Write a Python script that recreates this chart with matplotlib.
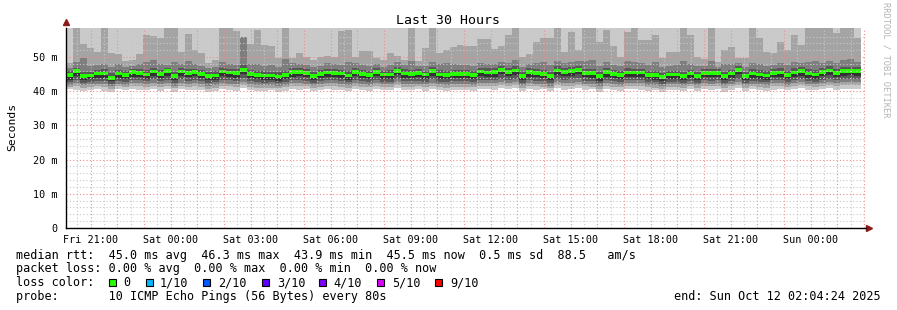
import numpy as np
import matplotlib
matplotlib.use("Agg")
import matplotlib.pyplot as plt
import matplotlib.dates as mdates
from matplotlib.patches import Rectangle
from matplotlib.ticker import MultipleLocator, FixedLocator, FuncFormatter
from datetime import datetime, timedelta

plt.rcParams['font.family'] = ['DejaVu Sans Mono']

END = datetime(2025, 10, 12, 2, 4, 24)
START = END - timedelta(hours=30)
STEP_MIN = 15.69  # one smoke column

# median rtt per column (ms)
median = [44.7, 45.9, 44.4, 44.6, 45.2, 45.2, 43.9, 45.2, 44.7, 45.6, 45.3, 44.9, 45.8, 45.0, 45.9, 44.4, 45.8, 45.3, 45.6, 45.0, 44.4, 44.6, 45.8, 45.5, 45.3, 46.3, 45.0, 44.7, 44.6,
          44.6, 44.3, 44.7, 45.6, 45.6, 45.3, 44.4, 45.0, 45.5, 45.4, 45.2, 44.6, 45.7, 45.1, 44.7, 45.7, 44.9, 44.9, 46.0, 45.2, 45.1, 45.3, 44.9, 45.9, 44.9, 44.7, 45.0, 45.0,
          45.0, 44.7, 45.8, 45.5, 45.6, 46.2, 45.6, 46.1, 44.4, 45.6, 45.3, 45.1, 44.4, 46.1, 45.6, 45.9, 46.3, 45.3, 45.3, 44.4, 45.6, 45.0, 44.7, 45.5, 45.5, 45.5, 44.7, 44.7, 44.1, 44.9,
          44.9, 44.5, 45.2, 44.5, 45.3, 45.3, 45.3, 44.4, 45.2, 46.2, 44.4, 45.2, 44.9, 44.6, 45.3, 45.5, 44.8, 45.5, 45.9, 45.2, 44.9, 45.7, 46.1, 45.4, 45.9, 45.9, 45.9]

# sorted pings (ping10 = max is off the top of the graph in every column)
ping9 = [48.4, 59, 53.8, 52.7, 51.6, 59, 51.2, 50.9, 48.8, 49.2, 50.9, 56.4, 56.2, 55.6, 59, 59, 51.4, 56.7, 52.2, 51.1, 48.3, 49.1, 59, 59, 57.5, 56.0, 53.8, 57.9, 53.5,
         53.3, 49.6, 59, 49.6, 51.1, 50.1, 49.1, 49.9, 50.4, 50.1, 57.6, 57.9, 50.1, 51.8, 51.8, 49.6, 49.1, 51.3, 50.4, 49.1, 59, 48.8, 52.7, 59, 51.1, 52.0, 53.0, 53.5,
         53.3, 53.3, 55.3, 55.3, 52.5, 53.3, 56.4, 59, 50.1, 50.8, 54.5, 55.5, 55.6, 59, 51.6, 57.2, 52.0, 59, 59, 54.5, 57.9, 53.3, 50.1, 57.2, 59, 55.0, 55.0, 56.4, 49.8, 51.6,
         51.6, 59, 56.4, 50.1, 49.4, 59, 48.6, 52.0, 53.0, 49.6, 49.6, 58.4, 55.5, 51.6, 51.1, 54.5, 52.0, 56.4, 53.5, 59, 59, 59, 59, 56.9, 59, 59, 55.5]
ping8 = [46.9, 48.6, 49.6, 47.5, 47.7, 47.9, 47.2, 47.9, 47.2, 47.4, 47.9, 48.6, 49.1, 48.1, 47.7, 48.6, 47.9, 48.8, 47.9, 47.5, 46.9, 47.2, 48.6, 47.9, 47.7, 55.8, 48.1, 47.9, 47.5,
         47.6, 47.0, 49.3, 48.2, 47.9, 47.8, 47.1, 47.5, 48.3, 47.9, 47.6, 48.7, 48.4, 47.8, 47.4, 48.0, 47.2, 47.8, 48.5, 47.6, 48.9, 47.4, 47.3, 48.6, 47.9, 48.2, 48.0, 47.7,
         47.8, 47.5, 48.4, 48.1, 48.0, 48.6, 48.3, 49.2, 47.1, 48.0, 48.4, 48.7, 47.6, 48.9, 48.2, 48.5, 48.8, 48.9, 49.0, 47.4, 48.6, 47.8, 47.3, 48.8, 48.5, 48.2, 47.8, 48.6, 47.0, 47.5,
         47.6, 48.8, 48.1, 47.3, 47.5, 48.9, 47.2, 47.9, 48.1, 48.3, 47.0, 48.2, 47.9, 47.4, 47.8, 48.4, 47.6, 48.6, 48.2, 48.7, 48.9, 48.2, 48.8, 48.4, 49.0, 49.3, 48.6]
ping7 = [45.9, 46.8, 45.6, 45.7, 46.3, 46.5, 45.2, 46.2, 45.9, 46.6, 46.4, 46.1, 46.9, 46.2, 46.8, 45.7, 46.7, 46.5, 46.6, 46.1, 45.5, 45.8, 46.9, 46.6, 46.4, 47.8, 46.2, 45.9, 45.8,
         45.7, 45.5, 45.9, 46.7, 46.8, 46.4, 45.6, 46.2, 46.6, 46.5, 46.3, 45.8, 46.8, 46.3, 45.9, 46.9, 46.0, 46.1, 47.1, 46.4, 46.2, 46.5, 46.0, 47.0, 46.1, 45.8, 46.2, 46.1,
         46.1, 45.9, 46.9, 46.7, 46.7, 47.4, 46.8, 47.3, 45.6, 46.7, 46.5, 46.3, 45.6, 47.3, 46.8, 47.0, 47.5, 46.5, 46.4, 45.5, 46.8, 46.1, 45.9, 46.7, 46.6, 46.6, 45.9, 45.8, 45.3, 46.0,
         46.0, 45.7, 46.3, 45.6, 46.5, 46.4, 46.5, 45.6, 46.3, 47.4, 45.5, 46.4, 46.1, 45.8, 46.4, 46.7, 45.9, 46.7, 47.0, 46.4, 46.1, 46.9, 47.3, 46.5, 47.1, 47.0, 47.0]
ping6 = [45.1, 46.2, 44.8, 45.0, 45.6, 45.5, 44.3, 45.6, 45.0, 46.0, 45.6, 45.3, 46.1, 45.4, 46.2, 44.8, 46.2, 45.6, 45.9, 45.4, 44.8, 45.0, 46.1, 45.8, 45.7, 46.7, 45.4, 45.1, 45.0,
         45.0, 44.7, 45.1, 46.0, 45.9, 45.7, 44.8, 45.4, 45.9, 45.8, 45.6, 45.0, 46.1, 45.5, 45.1, 46.0, 45.3, 45.3, 46.3, 45.6, 45.5, 45.7, 45.3, 46.2, 45.3, 45.1, 45.4, 45.4,
         45.4, 45.1, 46.1, 45.9, 45.9, 46.6, 46.0, 46.5, 44.8, 45.9, 45.7, 45.5, 44.8, 46.5, 46.0, 46.3, 46.7, 45.7, 45.6, 44.7, 46.0, 45.4, 45.1, 45.9, 45.8, 45.9, 45.1, 45.0, 44.5, 45.3,
         45.3, 44.9, 45.6, 44.9, 45.7, 45.6, 45.7, 44.8, 45.6, 46.6, 44.8, 45.6, 45.3, 45.0, 45.7, 45.9, 45.2, 45.9, 46.2, 45.6, 45.3, 46.1, 46.5, 45.8, 46.3, 46.2, 46.3]
ping5 = [43.4, 44.6, 43.3, 43.5, 43.9, 44.0, 42.9, 44.0, 43.6, 44.3, 44.1, 43.7, 44.5, 43.9, 44.6, 43.2, 44.5, 44.1, 44.4, 43.8, 43.3, 43.4, 44.6, 44.2, 44.0, 44.9, 43.8, 43.5, 43.4,
         43.4, 43.1, 43.5, 44.3, 44.4, 44.1, 43.2, 43.8, 44.2, 44.2, 44.0, 43.4, 44.4, 43.9, 43.5, 44.4, 43.7, 43.6, 44.7, 44.0, 43.8, 44.1, 43.7, 44.6, 43.6, 43.5, 43.8, 43.8,
         43.8, 43.5, 44.5, 44.3, 44.3, 44.9, 44.4, 44.8, 43.2, 44.3, 44.1, 43.9, 43.2, 44.8, 44.4, 44.6, 45.0, 44.1, 44.0, 43.1, 44.3, 43.8, 43.5, 44.2, 44.3, 44.2, 43.5, 43.4, 42.9, 43.7,
         43.7, 43.3, 44.0, 43.3, 44.1, 44.1, 44.1, 43.2, 44.0, 44.9, 43.2, 44.0, 43.7, 43.4, 44.1, 44.3, 43.6, 44.3, 44.6, 44.0, 43.7, 44.4, 44.8, 44.2, 44.6, 44.7, 44.6]
ping4 = [42.6, 43.4, 42.5, 42.8, 43.0, 43.1, 42.2, 43.1, 42.7, 43.3, 43.2, 42.9, 43.5, 43.0, 43.4, 42.4, 43.5, 43.1, 43.3, 42.9, 42.4, 42.6, 43.4, 43.2, 43.1, 43.8, 42.9, 42.6, 42.5,
         42.6, 42.3, 42.7, 43.3, 43.4, 43.1, 42.4, 42.9, 43.2, 43.2, 43.0, 42.6, 43.4, 43.0, 42.7, 43.4, 42.8, 42.8, 43.6, 43.1, 42.9, 43.1, 42.8, 43.5, 42.8, 42.6, 42.9, 42.9,
         42.9, 42.7, 43.4, 43.2, 43.3, 43.7, 43.3, 43.6, 42.5, 43.3, 43.1, 43.0, 42.4, 43.6, 43.3, 43.5, 43.8, 43.1, 43.0, 42.4, 43.3, 42.9, 42.7, 43.2, 43.2, 43.2, 42.7, 42.6, 42.2, 42.8,
         42.8, 42.5, 43.1, 42.5, 43.2, 43.1, 43.2, 42.4, 43.1, 43.7, 42.4, 43.1, 42.8, 42.6, 43.2, 43.3, 42.7, 43.3, 43.6, 43.1, 42.8, 43.4, 43.7, 43.2, 43.5, 43.6, 43.5]
ping3 = [41.8, 42.3, 41.7, 42.0, 42.2, 42.1, 41.5, 42.2, 41.9, 42.4, 42.3, 42.0, 42.5, 42.1, 42.4, 41.6, 42.5, 42.2, 42.3, 42.0, 41.6, 41.8, 42.4, 42.2, 42.2, 42.7, 42.0, 41.8, 41.7,
         41.8, 41.6, 41.9, 42.4, 42.5, 42.2, 41.7, 42.1, 42.3, 42.3, 42.2, 41.8, 42.5, 42.1, 41.9, 42.4, 42.0, 42.0, 42.6, 42.2, 42.1, 42.2, 42.0, 42.5, 42.0, 41.8, 42.1, 42.1,
         42.1, 41.9, 42.5, 42.3, 42.4, 42.7, 42.4, 42.6, 41.7, 42.4, 42.2, 42.1, 41.6, 42.7, 42.4, 42.5, 42.8, 42.2, 42.2, 41.6, 42.4, 42.1, 41.9, 42.3, 42.3, 42.3, 41.9, 41.8, 41.5, 42.0,
         42.0, 41.8, 42.2, 41.8, 42.3, 42.2, 42.3, 41.7, 42.2, 42.7, 41.7, 42.2, 42.0, 41.8, 42.3, 42.4, 41.9, 42.4, 42.6, 42.2, 42.0, 42.5, 42.7, 42.3, 42.6, 42.6, 42.6]
ping2 = [41.1, 41.4, 40.9, 41.2, 41.4, 41.3, 40.8, 41.4, 41.1, 41.5, 41.4, 41.2, 41.6, 41.3, 41.5, 40.9, 41.6, 41.3, 41.5, 41.2, 40.8, 41.0, 41.5, 41.4, 41.3, 41.8, 41.2, 41.0, 40.9,
         41.0, 40.9, 41.1, 41.5, 41.6, 41.4, 40.9, 41.2, 41.5, 41.4, 41.3, 41.0, 41.6, 41.3, 41.1, 41.5, 41.2, 41.2, 41.7, 41.3, 41.2, 41.4, 41.2, 41.6, 41.2, 41.0, 41.3, 41.2,
         41.3, 41.1, 41.6, 41.5, 41.5, 41.8, 41.5, 41.7, 40.9, 41.5, 41.4, 41.3, 40.9, 41.8, 41.5, 41.6, 41.9, 41.4, 41.3, 40.8, 41.5, 41.2, 41.1, 41.5, 41.4, 41.4, 41.1, 41.0, 40.7, 41.2,
         41.2, 41.0, 41.4, 41.0, 41.4, 41.4, 41.4, 40.9, 41.4, 41.8, 40.9, 41.4, 41.2, 41.0, 41.4, 41.5, 41.1, 41.5, 41.7, 41.4, 41.2, 41.6, 41.8, 41.4, 41.7, 41.7, 41.7]
ping1 = [40.6, 40.5, 40.1, 40.4, 40.7, 40.2, 39.8, 40.6, 40.3, 40.8, 40.5, 40.4, 40.7, 40.2, 40.6, 39.9, 40.8, 40.5, 40.3, 40.4, 39.9, 40.2, 40.6, 40.5, 40.1, 40.9, 40.4, 40.0, 40.2,
         40.3, 39.9, 40.2, 40.7, 40.5, 40.6, 40.0, 40.4, 40.8, 40.5, 40.3, 40.2, 40.8, 40.4, 40.1, 40.6, 40.3, 40.5, 40.9, 40.4, 40.5, 40.6, 40.2, 40.7, 40.3, 40.1, 40.5, 40.4,
         40.5, 40.2, 40.8, 40.6, 40.4, 41.0, 40.7, 40.9, 40.0, 40.6, 40.5, 40.6, 40.0, 40.9, 40.5, 40.8, 41.0, 40.4, 40.6, 39.8, 40.7, 40.3, 40.2, 40.6, 40.7, 40.5, 40.1, 40.3, 39.8, 40.4,
         40.4, 40.1, 40.6, 40.2, 40.7, 40.5, 40.6, 39.9, 40.5, 41.0, 40.0, 40.6, 40.3, 40.2, 40.5, 40.8, 40.3, 40.6, 40.9, 40.5, 40.4, 40.7, 41.0, 40.5, 40.8, 40.8, 40.7]

loss_labels = ['0', '1/10', '2/10', '3/10', '4/10', '5/10', '9/10']
loss_colors = ['#26ff00', '#00b8ff', '#0059ff', '#5e00ff', '#7e00ff', '#dd00ff', '#ff0000']

stats_rtt = "median rtt:  45.0 ms avg  46.3 ms max  43.9 ms min  45.5 ms now  0.5 ms sd  88.5   am/s"
stats_loss = "packet loss: 0.00 % avg  0.00 % max  0.00 % min  0.00 % now"
probe_txt = "probe:       10 ICMP Echo Pings (56 Bytes) every 80s"
end_txt = "end: " + END.strftime("%a %b %d %H:%M:%S %Y")

n = len(median)
for arr in (ping1, ping2, ping3, ping4, ping5, ping6, ping7, ping8, ping9):
    assert len(arr) == n, (len(arr), n)

W, H = 897, 310
YTOP = 58.5
fig = plt.figure(figsize=(W / 100, H / 100), dpi=100)
ax = fig.add_axes([66 / W, 82 / H, 800 / W, 200 / H])

edges = mdates.date2num(START) + np.arange(n + 1) * STEP_MIN / 1440.0
top = np.full(n, YTOP + 5)
med = np.array(median)

# smoke: outer pairs light, inner pairs dark
layers = [(ping1, top, '#cacaca'), (ping2, ping9, '#a4a4a4'), (ping3, ping8, '#7e7e7e'),
          (ping4, ping7, '#585858'), (ping5, ping6, '#323232')]
for lo, hi, col in layers:
    ax.stairs(np.array(hi), edges, baseline=np.array(lo), fill=True, color=col, linewidth=0)
ax.stairs(med + 0.55, edges, baseline=med - 0.55, fill=True, color=loss_colors[0], linewidth=0)

ax.set_xlim(mdates.date2num(START), mdates.date2num(END))
ax.set_ylim(0, YTOP)

ax.xaxis.set_major_locator(mdates.HourLocator(interval=1))
ax.xaxis.set_minor_locator(mdates.MinuteLocator(byminute=[30]))
ax.xaxis.set_major_formatter(FuncFormatter(
    lambda v, p: mdates.num2date(v).strftime('%a %H:%M') if mdates.num2date(v).hour % 3 == 0 else ''))
ax.yaxis.set_major_locator(MultipleLocator(10))
ax.yaxis.set_minor_locator(FixedLocator([v for v in range(2, 58, 2) if v % 10]))
ax.yaxis.set_major_formatter(FuncFormatter(lambda v, p: '0' if v == 0 else '%d m' % v))

ax.set_axisbelow(False)
ax.grid(which='major', color='#f08c8c', linestyle=(0, (1, 2)), linewidth=0.8)
ax.grid(which='minor', color='#c8c8c8', linestyle=(0, (1, 2)), linewidth=0.8)
ax.tick_params(which='both', length=0, labelsize=7.3)
ax.tick_params(axis='y', pad=6)
ax.tick_params(axis='x', pad=5)

for s in ('top', 'right'):
    ax.spines[s].set_visible(False)
for s in ('left', 'bottom'):
    ax.spines[s].set_color('black')
    ax.spines[s].set_linewidth(1.0)
    ax.spines[s].set_zorder(5)
ax.plot([0], [1.03], marker='^', color='#8b1a1a', markersize=4, transform=ax.transAxes, clip_on=False)
ax.plot([1.004], [0], marker='>', color='#8b1a1a', markersize=4, transform=ax.transAxes, clip_on=False)

fig.text(448 / W, 1 - 20 / H, 'Last 30 Hours', ha='center', va='center', fontsize=9.5)
fig.text(12 / W, 1 - 127 / H, 'Seconds', rotation=90, ha='center', va='center', fontsize=8.2)
fig.text(886 / W, 1 - 60 / H, 'RRDTOOL / TOBI OETIKER', rotation=270, ha='center', va='center',
         fontsize=6.3, color='#b4b4b4')

fig.text(16 / W, 1 - 255 / H, stats_rtt, va='center', fontsize=8.5)
fig.text(16 / W, 1 - 268.5 / H, stats_loss, va='center', fontsize=8.5)
fig.text(16 / W, 1 - 282.5 / H, "loss color:", va='center', fontsize=8.5)
fig.text(16 / W, 1 - 296.5 / H, probe_txt, va='center', fontsize=8.5)
fig.text(881 / W, 1 - 296.5 / H, end_txt, ha='right', va='center', fontsize=8.5)

sq_x = [109, 146, 203, 262, 319, 377, 435]
lab_x = [123, 160, 218, 277, 333, 392, 450]
for sx, lx, lab, col in zip(sq_x, lab_x, loss_labels, loss_colors):
    fig.add_artist(Rectangle((sx / W, 1 - 286 / H), 7 / W, 7 / H, transform=fig.transFigure,
                             facecolor=col, edgecolor='black', linewidth=0.8))
    fig.text(lx / W, 1 - 282.5 / H, lab, va='center', fontsize=8.5)

fig.savefig('out.png', dpi=100, facecolor='white')
